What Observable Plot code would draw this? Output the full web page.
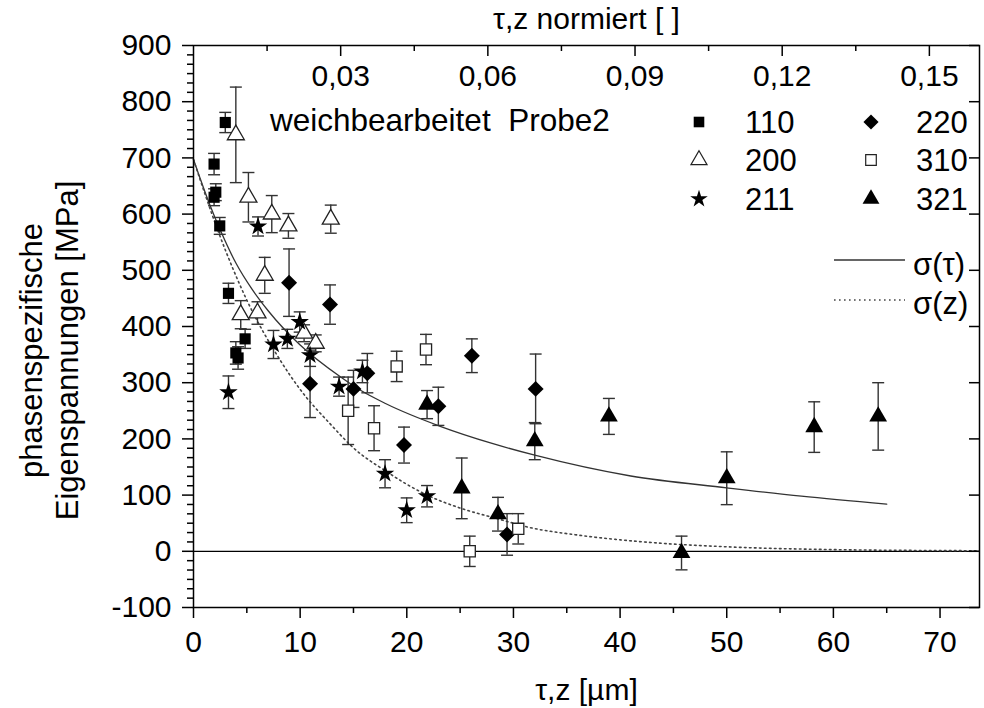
<!DOCTYPE html>
<html><head><meta charset="utf-8">
<script src="https://cdn.jsdelivr.net/npm/d3@7"></script>
<script src="https://cdn.jsdelivr.net/npm/@observablehq/plot@0.6"></script>
<style>
body{margin:0;background:#fff;}
#wrap{position:relative;width:984px;height:708px;font-family:"Liberation Sans",Arial,sans-serif;}
#wrap svg{position:absolute;left:0;top:0;}
</style></head><body><div id="wrap"></div>
<script>
// ---- data ----
const x110 = [1.93, 2.09, 1.93, 2.98, 2.46, 3.28, 4.84, 3.97, 4.18];
const y110 = [689, 639, 630, 763, 579, 459, 378, 353, 344];
const e110 = [19, 15, 15, 18, 15, 18, 17, 20, 20];

const x200 = [3.97, 5.15, 7.34, 8.9, 12.87, 6.68, 4.43, 6.0, 10.37, 11.46];
const y200 = [741, 630, 600, 579, 591, 491, 421, 424, 388, 370];
const e200 = [85, 44, 33, 22, 25, 32, 25, 20, 15, 15];

const x211 = [3.28, 6.05, 7.5, 8.8, 9.96, 10.93, 13.65, 15.84, 17.96, 19.99, 21.9];
const y211 = [283, 578, 368, 378, 408, 349, 293, 320, 138, 73, 98];
const e211 = [29, 17, 25, 17, 18, 20, 17, 20, 25, 22, 19];

const x220 = [8.96, 10.93, 12.8, 15.0, 16.3, 19.74, 22.96, 26.1, 29.4, 32.08];
const y220 = [478, 298, 439, 289, 317, 189, 258, 348, 30, 289];
const e220 = [60, 60, 35, 33, 35, 32, 34, 30, 37, 62];

const x310 = [14.5, 16.93, 19.05, 21.8, 25.9, 30.45];
const y310 = [250, 219, 329, 359, 0, 40];
const e310 = [60, 40, 27, 27, 27, 27];

const x321 = [21.9, 25.15, 28.55, 32.0, 38.95, 45.76, 50.0, 58.2, 64.2];
const y321 = [261, 112, 66, 196, 240, -3, 130, 221, 240];
const e321 = [25, 54, 30, 33, 32, 30, 47, 45, 60];

// fitted curves
const tauX = [0, 1.5, 2.5, 4, 5.5, 7, 10, 13.8, 15.7, 18, 23.2, 28, 32, 41, 50, 57, 65];
const tauY = [697, 618, 572, 512, 466, 428, 367, 310, 286, 263, 222, 192, 171, 134, 113, 98, 84];
const zX = [0, 2.4, 5, 8, 10, 12.9, 15, 18, 21.9, 25, 28.5, 31.6, 36, 42, 50, 60, 73.5];
const zY = [697, 565, 447, 344, 288, 225, 184, 143, 100, 77, 58, 42, 29, 17, 8, 3, 1];

// axes
const xMajor = [0, 10, 20, 30, 40, 50, 60, 70];
const xMinor = [5, 15, 25, 35, 45, 55, 65];
const yMajor = [-100, 0, 100, 200, 300, 400, 500, 600, 700, 800, 900];
const topMajor = [0.03, 0.06, 0.09, 0.12, 0.15];
const topMinor = [0.015, 0.045, 0.075, 0.105, 0.135];
const normDepth = 460; // µm corresponding to normalized value 1
const seriesNames = ["110", "200", "211", "220", "310", "321"];

// ---- build ----
const yMinor = yMajor.slice(0, -1).flatMap(m => [1, 2, 3, 4, 5].map(k => m + k * 100 / 6));
const rows = (xs, ys, es) => xs.map((x, i) => ({x, y: ys[i], e: es[i]}));
const styles = {
  "110": {symbol: "square", fill: "black", stroke: "none", r: 6.3},
  "200": {symbol: "triangle", fill: "white", stroke: "#222", r: 6.3},
  "211": {symbol: "star", fill: "black", stroke: "none", r: 5.8},
  "220": {symbol: "diamond2", fill: "black", stroke: "none", r: 7.2},
  "310": {symbol: "square", fill: "white", stroke: "#222", r: 6.3},
  "321": {symbol: "triangle", fill: "black", stroke: "none", r: 6.6}
};
const seriesData = {
  "110": rows(x110, y110, e110), "200": rows(x200, y200, e200), "211": rows(x211, y211, e211),
  "220": rows(x220, y220, e220), "310": rows(x310, y310, e310), "321": rows(x321, y321, e321)
};
const all = seriesNames.flatMap(n => seriesData[n]);
const cap = {draw(ctx) { ctx.moveTo(-6, 0); ctx.lineTo(6, 0); }};

const W = 984, H = 708, mL = 193, mR = 5, mT = 45, mB = 101;
const fw = W - mL - mR, fh = H - mT - mB;
const errColor = "#333";
const FS = 30;

const marks = [
  Plot.ruleY([0], {stroke: "black", strokeWidth: 1.3}),
  Plot.line(tauX.map((x, i) => ({x, y: tauY[i]})), {x: "x", y: "y", curve: "monotone-x", stroke: "#333", strokeWidth: 1.3}),
  Plot.line(zX.map((x, i) => ({x, y: zY[i]})), {x: "x", y: "y", curve: "monotone-x", stroke: "#444", strokeWidth: 1.6, strokeDasharray: "1.6,3.4"}),
  Plot.ruleX(all, {x: "x", y1: d => d.y - d.e, y2: d => d.y + d.e, stroke: errColor, strokeWidth: 1.4}),
  Plot.dot(all, {x: "x", y: d => d.y + d.e, symbol: cap, fill: "none", stroke: errColor, strokeWidth: 1.4}),
  Plot.dot(all, {x: "x", y: d => d.y - d.e, symbol: cap, fill: "none", stroke: errColor, strokeWidth: 1.4}),
  ...seriesNames.map(n => Plot.dot(seriesData[n], {x: "x", y: "y", symbol: styles[n].symbol, r: styles[n].r, fill: styles[n].fill, stroke: styles[n].stroke, strokeWidth: 1.3})),
  // axes
  Plot.axisY(yMajor, {tickSize: 11, tickPadding: 11, fontSize: FS, label: null, strokeWidth: 1.5, tickFormat: d => String(d)}),
  Plot.axisY(yMinor, {tickSize: 6, label: null, strokeWidth: 1.5, tickFormat: () => ""}),
  Plot.axisX(xMajor, {tickSize: 11, tickPadding: 12, fontSize: FS, label: null, strokeWidth: 1.5, tickFormat: d => String(d)}),
  Plot.axisX(xMinor, {tickSize: 6, label: null, strokeWidth: 1.5, tickFormat: () => ""}),
  Plot.tickY(yMajor, {y: d => d, insetLeft: fw - 10, stroke: "black", strokeWidth: 1.5}),
  Plot.tickX(topMajor, {x: d => d * normDepth, insetBottom: fh - 11, stroke: "black", strokeWidth: 1.5}),
  Plot.tickX(topMinor, {x: d => d * normDepth, insetBottom: fh - 6, stroke: "black", strokeWidth: 1.5}),
  Plot.text(topMajor, {x: d => d * normDepth, frameAnchor: "top", lineAnchor: "middle", dy: 31, text: d => d.toFixed(2).replace(".", ","), fontSize: FS}),
  Plot.frame({stroke: "black", strokeWidth: 1.5}),
  // axis titles
  Plot.text(["τ,z normiert [ ]"], {frameAnchor: "top", lineAnchor: "middle", textAnchor: "middle", dy: -26, text: d => d, fontSize: FS}),
  Plot.text(["τ,z [µm]"], {frameAnchor: "bottom", lineAnchor: "middle", textAnchor: "middle", dy: 83, text: d => d, fontSize: FS}),
  Plot.text(["phasenspezifische\nEigenspannungen [MPa]"], {frameAnchor: "left", textAnchor: "middle", lineAnchor: "middle", dx: -145, dy: 24, rotate: -90, text: d => d, fontSize: 31, lineHeight: 1.17})
];

const chart = Plot.plot({
  width: W, height: H,
  marginLeft: mL, marginRight: mR, marginTop: mT, marginBottom: mB,
  x: {domain: [0, 73.7]},
  y: {domain: [-100, 900]},
  style: {fontFamily: "'Liberation Sans', Arial, sans-serif", color: "black", background: "white", overflow: "visible"},
  marks
});
document.getElementById("wrap").appendChild(chart);

// ---- legend overlay ----
const ov = d3.select("#wrap").append("svg").attr("width", W).attr("height", H)
  .style("pointer-events", "none").style("font-family", "'Liberation Sans', Arial, sans-serif");
ov.append("text").attr("x", 270).attr("y", 120).attr("dy", "0.35em").attr("font-size", 31.5)
  .style("white-space", "pre").text("weichbearbeitet  Probe2");
const symMap = {square: d3.symbolSquare, triangle: d3.symbolTriangle, star: d3.symbolStar, diamond2: d3.symbolDiamond2};
const colX = [699, 871], colTx = [745, 916], rowY = [122, 160, 199];
seriesNames.forEach((n, i) => {
  const c = Math.floor(i / 3), r = i % 3, s = styles[n];
  ov.append("path")
    .attr("d", d3.symbol(symMap[s.symbol], Math.PI * s.r * s.r * 0.9)())
    .attr("transform", `translate(${colX[c]},${rowY[r]})`)
    .attr("fill", s.fill).attr("stroke", s.stroke).attr("stroke-width", 1.2);
  ov.append("text").attr("x", colTx[c]).attr("y", rowY[r]).attr("dy", "0.35em").attr("font-size", 31).text(n);
});
ov.append("line").attr("x1", 834).attr("x2", 905).attr("y1", 260).attr("y2", 260).attr("stroke", "#333").attr("stroke-width", 1.3);
ov.append("text").attr("x", 913).attr("y", 264).attr("dy", "0.35em").attr("font-size", 31).text("σ(τ)");
ov.append("line").attr("x1", 834).attr("x2", 905).attr("y1", 300).attr("y2", 300).attr("stroke", "#444").attr("stroke-width", 1.6).attr("stroke-dasharray", "1.6,3.4");
ov.append("text").attr("x", 913).attr("y", 303).attr("dy", "0.35em").attr("font-size", 31).text("σ(z)");
</script></body></html>
